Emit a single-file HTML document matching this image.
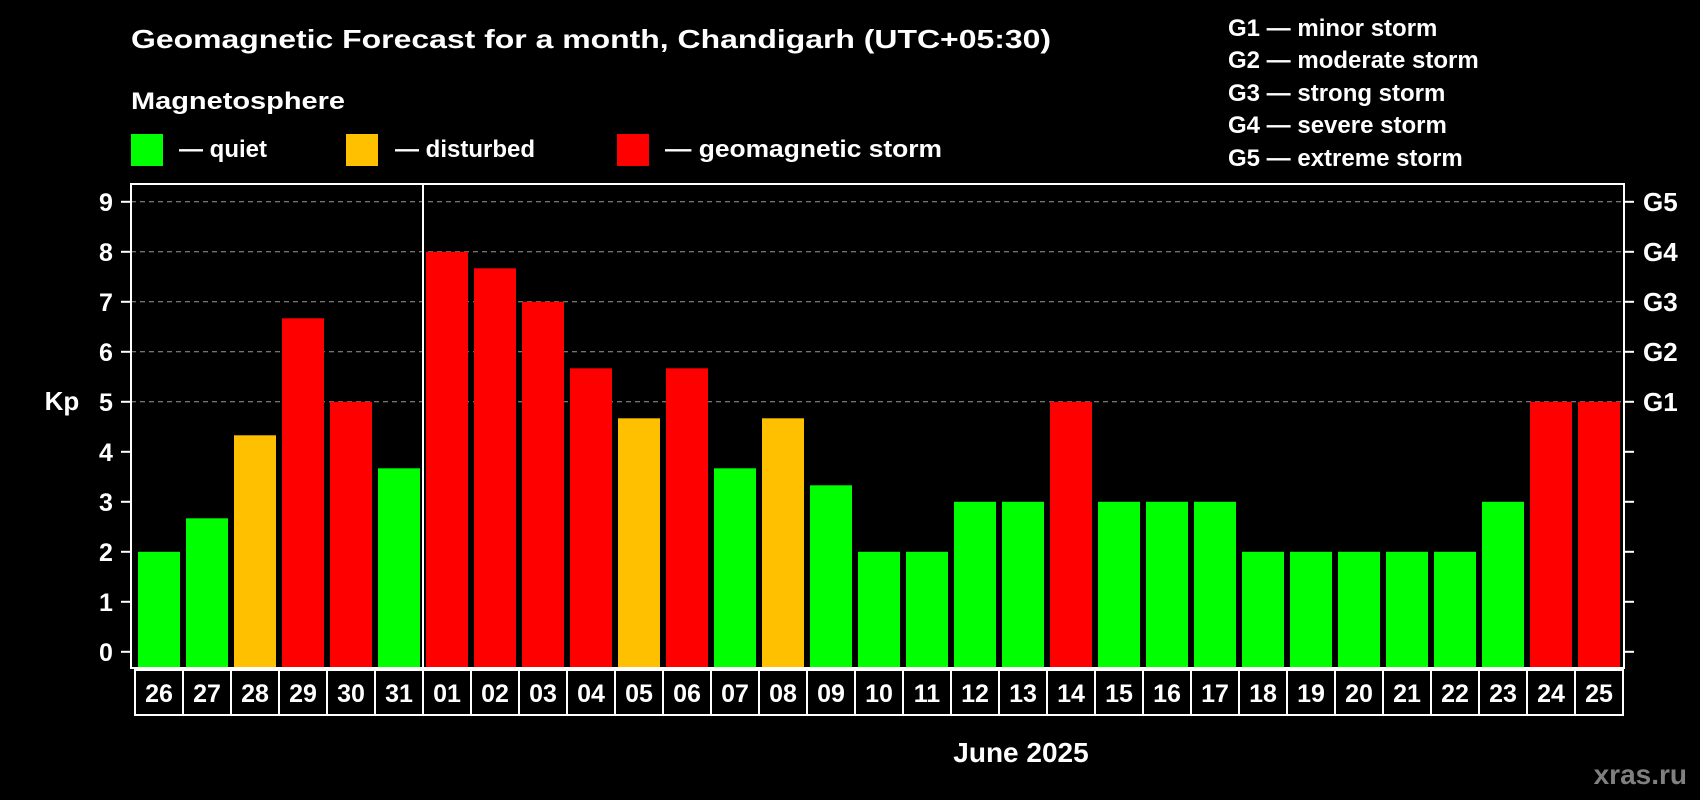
<!DOCTYPE html>
<html><head><meta charset="utf-8"><style>
html,body{margin:0;padding:0;background:#000;}
svg{display:block;font-family:"Liberation Sans",Arial,sans-serif;font-weight:bold;}
</style></head><body>
<svg id="chart" width="1700" height="800" viewBox="0 0 1700 800">
<rect width="1700" height="800" fill="#000"/>
<text x="131" y="48" font-size="26" fill="#fff" textLength="920" lengthAdjust="spacingAndGlyphs">Geomagnetic Forecast for a month, Chandigarh (UTC+05:30)</text>
<text x="131" y="109" font-size="24" fill="#fff" textLength="214" lengthAdjust="spacingAndGlyphs">Magnetosphere</text>
<g>
<rect x="131" y="134" width="32" height="32" fill="#00ff00"/>
<text x="179" y="157" font-size="24" fill="#fff">— quiet</text></g>
<g>
<rect x="346" y="134" width="32" height="32" fill="#ffc000"/>
<text x="395" y="157" font-size="24" fill="#fff">— disturbed</text></g>
<g>
<rect x="617" y="134" width="32" height="32" fill="#ff0000"/>
<text x="665" y="157" font-size="24" fill="#fff" textLength="277" lengthAdjust="spacingAndGlyphs">— geomagnetic storm</text></g>
<g font-size="24" fill="#fff">
<text x="1228" y="36">G1 — minor storm</text>
<text x="1228" y="68">G2 — moderate storm</text>
<text x="1228" y="101">G3 — strong storm</text>
<text x="1228" y="133">G4 — severe storm</text>
<text x="1228" y="166">G5 — extreme storm</text>
</g>
<text x="62" y="410" font-size="26" fill="#fff" text-anchor="middle">Kp</text>
<g id="grid"></g>
<g id="bars"></g>
<g id="axes"></g>
<g id="dates"></g>
<text x="1021" y="762" font-size="28" fill="#fff" text-anchor="middle">June 2025</text>
<text x="1687" y="784" font-size="28" fill="#808080" text-anchor="end">xras.ru</text>
</svg>
<script>
const days = ["26","27","28","29","30","31","01","02","03","04","05","06","07","08","09","10","11","12","13","14","15","16","17","18","19","20","21","22","23","24","25"];
const kpValues = [2,2.67,4.33,6.67,5,3.67,8,7.67,7,5.67,4.67,5.67,3.67,4.67,3.33,2,2,3,3,5,3,3,3,2,2,2,2,2,3,5,5];
const yTicks = [0,1,2,3,4,5,6,7,8,9];
const gLabels = ["G1","G2","G3","G4","G5"];
const gLevels = [5,6,7,8,9];
const monthBreakIndex = 6;

const NS="http://www.w3.org/2000/svg";
const L=131,R=1624,T=184,B=668,x0=138,pitch=48,bw=42;
const y=v=>651.8-50*v;
const x=i=>x0+i*pitch;
function mk(tag,attrs,parent,txt){const e=document.createElementNS(NS,tag);for(const k in attrs)e.setAttribute(k,attrs[k]);if(txt!==undefined)e.textContent=txt;document.getElementById(parent).appendChild(e);return e;}
function color(v){return v<4?"#00ff00":(v<5?"#ffc000":"#ff0000");}

gLevels.forEach((v,i)=>{
  const g=mk("line",{x1:L,x2:R,y1:y(v),y2:y(v),stroke:"#999","stroke-width":1,"stroke-dasharray":"5,4"},"grid");
  
  
  const t=mk("text",{x:1643,y:y(v)+9,"font-size":26,fill:"#fff"},"axes",gLabels[i]);
  
  
});
kpValues.forEach((v,i)=>{
  const b=mk("rect",{x:x(i),y:y(v),width:bw,height:y(0)-y(v)+16.2,fill:color(v)},"bars");
  
  
});
yTicks.forEach(v=>{
  const t=mk("text",{x:106,y:y(v)+9,"font-size":25,fill:"#fff","text-anchor":"middle"},"axes",String(v));
  
  
  const l=mk("line",{x1:121,x2:L,y1:y(v),y2:y(v),stroke:"#fff","stroke-width":2},"axes");
  
  
  const r=mk("line",{x1:R,x2:R+10,y1:y(v),y2:y(v),stroke:"#fff","stroke-width":2},"axes");
  
  
});
const frame=mk("rect",{x:L,y:T,width:R-L,height:B-T,fill:"none",stroke:"#fff","stroke-width":2},"axes");


const dx=x(monthBreakIndex)-3;
const div=mk("line",{x1:dx,x2:dx,y1:T,y2:B,stroke:"#fff","stroke-width":2},"axes");


days.forEach((d,i)=>{
  const bx=x(i)-3;
  const r=mk("rect",{x:bx,y:670,width:pitch,height:45,fill:"#000",stroke:"#fff","stroke-width":2},"dates");
  
  
  const t=mk("text",{x:x(i)+bw/2,y:702,"font-size":25,fill:"#fff","text-anchor":"middle"},"dates",d);
  
  
});
</script>
</body></html>
